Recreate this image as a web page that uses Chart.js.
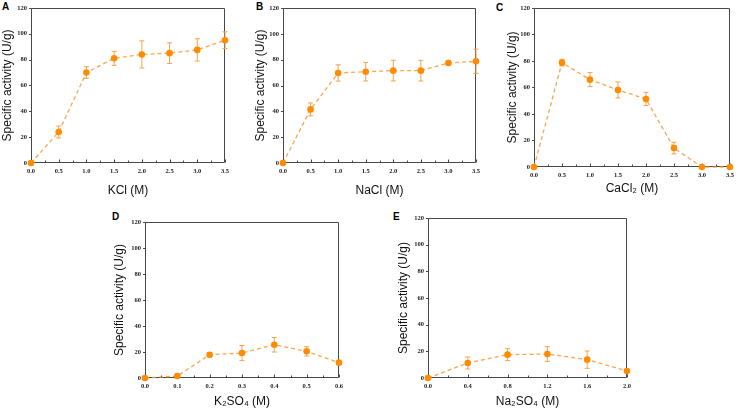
<!DOCTYPE html>
<html>
<head>
<meta charset="utf-8">
<script src="https://cdn.jsdelivr.net/npm/chart.js@4.4.0/dist/chart.umd.min.js"></script>
<style>
  body { margin: 0; background: #fff; width: 738px; height: 410px; position: relative; overflow: hidden; }
  .pane { position: absolute; }
  .tag { position: absolute; font: bold 10px "Liberation Sans", Arial, sans-serif; color: #000; line-height: 10px; }
  #err { position: absolute; left: 0; bottom: 0; font: 10px monospace; color: red; }
</style>
</head>
<body>
<div class="tag" style="left:2px;top:2px">A</div>
<div class="tag" style="left:256px;top:2px">B</div>
<div class="tag" style="left:496px;top:3px">C</div>
<div class="tag" style="left:112px;top:212px">D</div>
<div class="tag" style="left:393px;top:212px">E</div>

<div class="pane" style="left:0px;top:0px;width:235px;height:198px"><canvas id="chartA"></canvas></div>
<div class="pane" style="left:253px;top:0px;width:233px;height:198px"><canvas id="chartB"></canvas></div>
<div class="pane" style="left:505px;top:0px;width:233px;height:196px"><canvas id="chartC"></canvas></div>
<div class="pane" style="left:112px;top:200px;width:237px;height:209px"><canvas id="chartD"></canvas></div>
<div class="pane" style="left:396px;top:200px;width:241px;height:209px"><canvas id="chartE"></canvas></div>
<div id="err"></div>

<script>
// values (specific activity, U/g, mean and error)
const kclConc = [0, 0.5, 1.0, 1.5, 2.0, 2.5, 3.0, 3.5];
const kclActivity = [0, 24, 70, 81, 84, 85, 87.5, 95];
const kclErr = [0, 4.6, 4.5, 5.4, 10.5, 8, 8.6, 6.5];

const naclConc = [0, 0.5, 1.0, 1.5, 2.0, 2.5, 3.0, 3.5];
const naclActivity = [0, 41.5, 69.7, 70.7, 71.5, 71.5, 77.4, 78.7];
const naclErr = [0, 5, 6.3, 7.2, 8, 8, 1.7, 9.4];

const caclConc = [0, 0.5, 1.0, 1.5, 2.0, 2.5, 3.0, 3.5];
const caclActivity = [0, 78.7, 65.9, 58.1, 51.3, 14.3, 0, 0];
const caclErr = [0, 2.5, 5.3, 6, 5, 4.4, 0, 0];

const k2so4Conc = [0, 0.1, 0.2, 0.3, 0.4, 0.5, 0.6];
const k2so4Activity = [0, 1.5, 17.9, 19.2, 25.6, 20.5, 11.8];
const k2so4Err = [0, 1.5, 1.7, 5.8, 5.6, 3.6, 1];

const na2so4Conc = [0, 0.4, 0.8, 1.2, 1.6, 2.0];
const na2so4Activity = [0, 11.25, 17.5, 18, 13.75, 5.25];
const na2so4Err = [0, 4.5, 4.5, 5.5, 6.5, 1.2];

const yMax = 120;
const yStep = 20;

const tickFont = { family: '"Liberation Serif", "Times New Roman", serif', weight: 'bold', size: 6.5 };
const titleFont = { family: '"Liberation Sans", Arial, sans-serif', size: 12 };

// error bars, placed through the chart's scales
const errorBars = {
  id: 'errorBars',
  beforeDatasetsDraw(chart) {
    const { ctx, scales } = chart;
    const x = scales.x, y = scales.y;
    const ds = chart.data.datasets[0];
    ctx.save();
    ctx.strokeStyle = '#f6a24c';
    ctx.lineWidth = 1;
    ds.data.forEach((p, i) => {
      const e = ds.errors[i];
      if (!e) return;
      const px = x.getPixelForValue(p.x);
      const top = y.getPixelForValue(p.y + e);
      const bot = y.getPixelForValue(p.y - e);
      ctx.beginPath();
      ctx.moveTo(px, top); ctx.lineTo(px, bot);
      ctx.moveTo(px - 2.5, top); ctx.lineTo(px + 2.5, top);
      ctx.moveTo(px - 2.5, bot); ctx.lineTo(px + 2.5, bot);
      ctx.stroke();
    });
    ctx.restore();
  }
};

// box frame with outward y ticks and inward x ticks (major + minor)
const boxFrame = {
  id: 'boxFrame',
  beforeDatasetsDraw(chart) {
    try {
      const ctx = chart.ctx, a = chart.chartArea;
      const x = chart.scales.x, y = chart.scales.y;
      ctx.save();
      ctx.setLineDash([]);
      ctx.strokeStyle = '#474747';
      ctx.lineWidth = 1;
      const l = Math.round(a.left) + 0.5, t = Math.round(a.top) + 0.5;
      const r = Math.round(a.right) - 0.5, b = Math.round(a.bottom) - 0.5;
      ctx.beginPath();
      ctx.rect(l, t, r - l, b - t);
      y.ticks.forEach(tk => {
        const py = Math.round(y.getPixelForValue(tk.value)) + 0.5;
        ctx.moveTo(l - 2.5, py); ctx.lineTo(l, py);
      });
      const xt = x.ticks.map(tk => tk.value);
      const half = (xt[1] - xt[0]) / 2;
      xt.forEach((v, i) => {
        const px = Math.round(x.getPixelForValue(v)) + 0.5;
        ctx.moveTo(px, b); ctx.lineTo(px, b - 3);
        if (i < xt.length - 1) {
          const mx = Math.round(x.getPixelForValue(v + half)) + 0.5;
          ctx.moveTo(mx, b); ctx.lineTo(mx, b - 2);
        }
      });
      ctx.stroke();
      ctx.restore();
    } catch (e) {
      document.getElementById('err').textContent = String(e);
    }
  }
};

function makePanel(id, conc, activity, err, xLabel, xMax, xStep, box) {
  const points = conc.map((c, i) => ({ x: c, y: activity[i] }));
  return new Chart(document.getElementById(id), {
    type: 'line',
    data: {
      datasets: [{
        data: points,
        errors: err,
        borderColor: 'rgba(246,150,50,0.85)',
        borderWidth: 1.3,
        borderDash: [4, 3],
        pointRadius: 3.3,
        pointBackgroundColor: '#ff8c00',
        pointBorderColor: '#ff8c00',
        pointBorderWidth: 0,
        clip: false,
        tension: 0
      }]
    },
    options: {
      responsive: true,
      maintainAspectRatio: false,
      animation: false,
      layout: { padding: { left: 0, top: box.top, right: box.right, bottom: 0 } },
      plugins: { legend: { display: false }, tooltip: { enabled: false } },
      scales: {
        x: {
          type: 'linear', min: 0, max: xMax,
          afterFit(s) { s.height = box.xh; },
          grid: { display: false, drawTicks: false, tickLength: 0 }, border: { display: false },
          ticks: { stepSize: xStep, autoSkip: false, maxRotation: 0, padding: 4, color: '#222', font: tickFont,
                   callback: v => v.toFixed(1) },
          title: { display: true, text: xLabel, color: '#111', font: titleFont, padding: 0 }
        },
        y: {
          min: 0, max: yMax,
          afterFit(s) { s.width = box.yw; },
          grid: { display: false, drawTicks: false, tickLength: 0 }, border: { display: false },
          ticks: { stepSize: yStep, padding: 4, color: '#222', font: tickFont },
          title: { display: true, text: 'Specific activity (U/g)', color: '#111', font: titleFont, padding: 0 }
        }
      }
    },
    plugins: [boxFrame, errorBars]
  });
}

makePanel('chartA', kclConc, kclActivity, kclErr, 'KCl (M)', 3.5, 0.5, { top: 7, right: 10, yw: 31, xh: 35 });
makePanel('chartB', naclConc, naclActivity, naclErr, 'NaCl (M)', 3.5, 0.5, { top: 8, right: 10, yw: 30, xh: 35 });
makePanel('chartC', caclConc, caclActivity, caclErr, 'CaCl\u2082 (M)', 3.5, 0.5, { top: 7, right: 5, yw: 29, xh: 29 });
makePanel('chartD', k2so4Conc, k2so4Activity, k2so4Err, 'K\u2082SO\u2084 (M)', 0.6, 0.1, { top: 22, right: 10, yw: 33, xh: 31 });
makePanel('chartE', na2so4Conc, na2so4Activity, na2so4Err, 'Na\u2082SO\u2084 (M)', 2.0, 0.4, { top: 18, right: 10, yw: 32, xh: 31 });
</script>
</body>
</html>
